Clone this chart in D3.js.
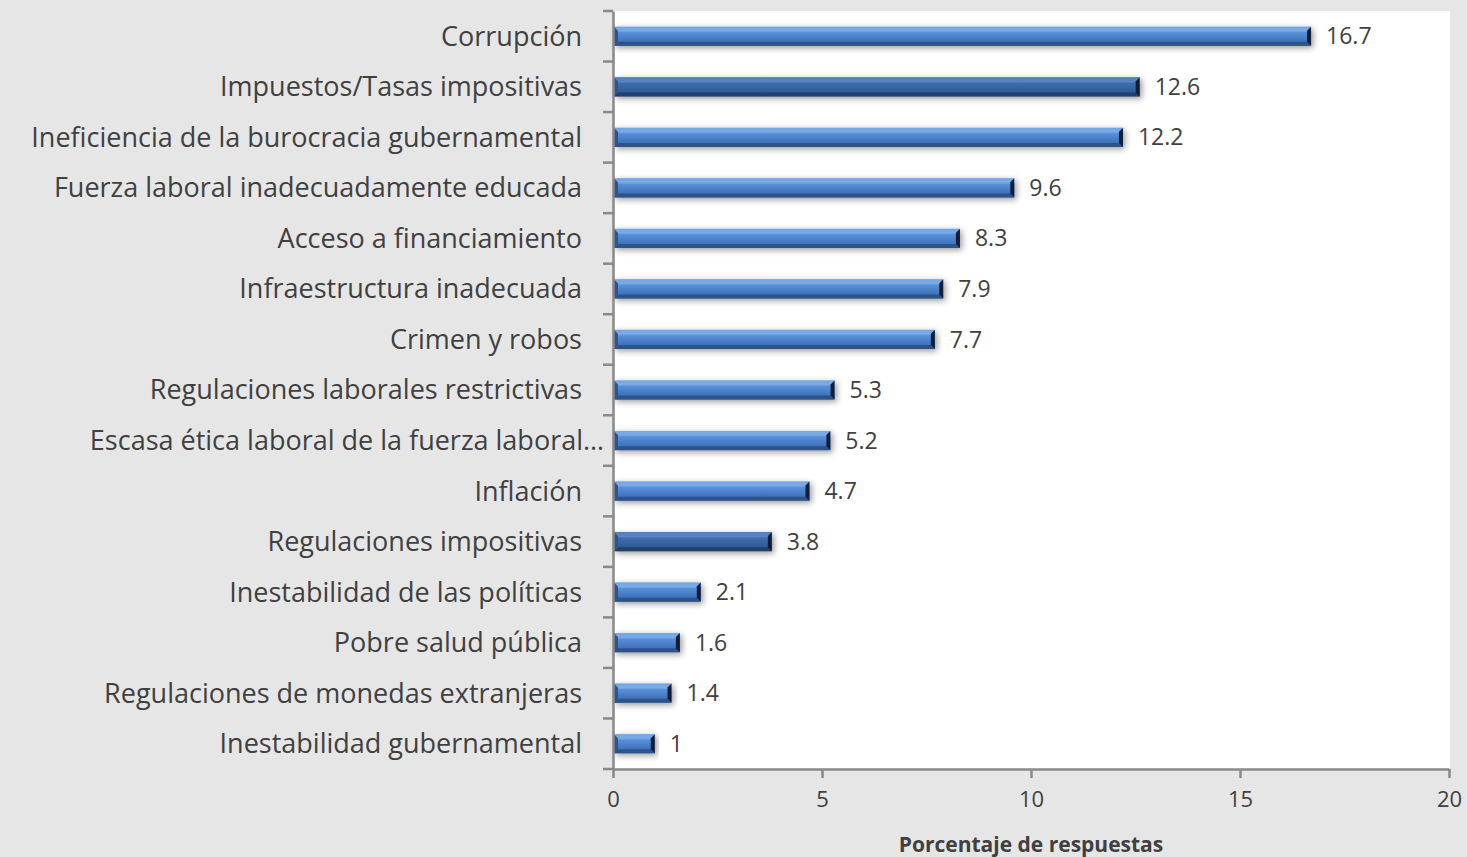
<!DOCTYPE html>
<html>
<head>
<meta charset="utf-8">
<script src="https://cdn.jsdelivr.net/npm/d3@7"></script>
<style>
  html, body { margin: 0; padding: 0; background: #e6e6e6; }
  text { font-family: "Open Sans", sans-serif; fill: #404040; }
</style>
</head>
<body>
<div id="container"></div>
<script>
// data
const categories = [
  "Corrupción",
  "Impuestos/Tasas impositivas",
  "Ineficiencia de la burocracia gubernamental",
  "Fuerza laboral inadecuadamente educada",
  "Acceso a financiamiento",
  "Infraestructura inadecuada",
  "Crimen y robos",
  "Regulaciones laborales restrictivas",
  "Escasa ética laboral de la fuerza laboral…",
  "Inflación",
  "Regulaciones impositivas",
  "Inestabilidad de las políticas",
  "Pobre salud pública",
  "Regulaciones de monedas extranjeras",
  "Inestabilidad gubernamental"
];
const values = [16.7, 12.6, 12.2, 9.6, 8.3, 7.9, 7.7, 5.3, 5.2, 4.7, 3.8, 2.1, 1.6, 1.4, 1];
const xTicks = [0, 5, 10, 15, 20];
const xTitle = "Porcentaje de respuestas";

// the two bars that come out a bit darker in the original
const darker = new Set(["Impuestos/Tasas impositivas", "Regulaciones impositivas"]);

const W = 1467, H = 857;
const plot = { left: 613, right: 1449, top: 11, bottom: 769 };

const svg = d3.select('#container')
  .append('svg')
  .attr('width', W)
  .attr('height', H);

const defs = svg.append('defs');
const shadow = defs.append('filter').attr('id', 'shadow')
  .attr('x', '-10%').attr('y', '-60%').attr('width', '120%').attr('height', '220%');
shadow.append('feDropShadow')
  .attr('dx', 2).attr('dy', 2).attr('stdDeviation', 3)
  .attr('flood-color', '#000').attr('flood-opacity', 0.4);

function grad(id, stops) {
  const g = defs.append('linearGradient').attr('id', id)
    .attr('x1', 0).attr('y1', 0).attr('x2', 0).attr('y2', 1);
  stops.forEach(s => g.append('stop').attr('offset', s[0]).attr('stop-color', s[1]));
}
grad('face', [[0, '#7fb0ee'], [0.15, '#9cc6f6'], [0.3, '#5a90d8'], [0.7, '#4177c0'], [1, '#3a68a8']]);
grad('faceDark', [[0, '#5f8fcf'], [0.15, '#7aa6dc'], [0.3, '#3f6fae'], [0.7, '#325e9a'], [1, '#2c5288']]);

// white plot area
svg.append('rect')
  .attr('x', plot.left).attr('y', plot.top)
  .attr('width', plot.right - plot.left + 1)
  .attr('height', plot.bottom - plot.top)
  .attr('fill', '#ffffff');

const xScale = d3.scaleLinear().domain([0, 20]).range([plot.left, plot.right]);
const yScale = d3.scaleBand().domain(categories).range([plot.top, plot.bottom]).paddingInner(0.62).paddingOuter(0.31);
const bandY = d3.scaleBand().domain(categories).range([plot.top, plot.bottom]);

// bars, beveled like the excel 3d look
const bars = svg.append('g').attr('class', 'bars');
categories.forEach((c, i) => {
  const x0 = xScale(0) + 1, x1 = xScale(values[i]);
  const y0 = yScale(c), h = yScale.bandwidth(), y1 = y0 + h;
  const b = 4;
  const g = bars.append('g').attr('filter', 'url(#shadow)');
  g.append('rect')
    .attr('x', x0).attr('y', y0).attr('width', x1 - x0).attr('height', h)
    .attr('fill', darker.has(c) ? 'url(#faceDark)' : 'url(#face)');
  // bottom bevel
  g.append('polygon')
    .attr('points', `${x0},${y1} ${x1},${y1} ${x1 - b},${y1 - b} ${x0 + b},${y1 - b}`)
    .attr('fill', darker.has(c) ? '#1f3a63' : '#2a4c7e').attr('opacity', 0.8);
  // top highlight
  g.append('polygon')
    .attr('points', `${x0},${y0} ${x1},${y0} ${x1 - b},${y0 + b} ${x0 + b},${y0 + b}`)
    .attr('fill', darker.has(c) ? '#4a78b4' : '#6a9fe0').attr('opacity', 0.7);
  // left cap
  g.append('polygon')
    .attr('points', `${x0},${y0} ${x0 + b},${y0 + b} ${x0 + b},${y1 - b} ${x0},${y1}`)
    .attr('fill', '#2c5593');
  // right cap, dark
  g.append('polygon')
    .attr('points', `${x1},${y0} ${x1},${y1} ${x1 - b},${y1 - b} ${x1 - b},${y0 + b}`)
    .attr('fill', '#141f33');
});

// value labels
svg.append('g').selectAll('text')
  .data(categories)
  .join('text')
  .attr('x', (c, i) => xScale(values[i]) + 15)
  .attr('y', c => yScale(c) + yScale.bandwidth() / 2)
  .attr('dy', '0.35em')
  .style('font-size', '23px')
  .text((c, i) => values[i]);

// y axis
const yAxis = svg.append('g')
  .attr('transform', `translate(${plot.left},0)`)
  .call(d3.axisLeft(yScale).tickSize(0).tickFormat(''));
yAxis.select('.domain').attr('stroke', '#898989').attr('stroke-width', 2.5);
const yTickPos = categories.map(c => bandY(c)).concat([plot.bottom]);
yAxis.selectAll('.btick').data(yTickPos).join('line')
  .attr('x1', -10).attr('x2', 0)
  .attr('y1', d => d).attr('y2', d => d)
  .attr('stroke', '#898989').attr('stroke-width', 2.5);

// category labels
svg.append('g').selectAll('text')
  .data(categories)
  .join('text')
  .attr('x', c => c.endsWith('…') ? 604 : 582)
  .attr('y', c => yScale(c) + yScale.bandwidth() / 2)
  .attr('dy', '0.35em')
  .attr('text-anchor', 'end')
  .style('font-size', '27px')
  .text(c => c);

// x axis
const xAxis = svg.append('g')
  .attr('transform', `translate(0,${plot.bottom})`)
  .call(d3.axisBottom(xScale).tickValues(xTicks).tickSize(9).tickPadding(13).tickSizeOuter(0));
xAxis.select('.domain').attr('stroke', '#898989').attr('stroke-width', 2.5);
xAxis.selectAll('.tick line').attr('stroke', '#898989').attr('stroke-width', 2.5);
xAxis.selectAll('.tick text')
  .style('font-family', '"Open Sans", sans-serif')
  .style('font-size', '22px')
  .attr('fill', '#404040');

svg.append('text')
  .attr('x', (plot.left + plot.right) / 2)
  .attr('y', 852)
  .attr('text-anchor', 'middle')
  .style('font-size', '21px')
  .style('font-weight', 'bold')
  .text(xTitle);
</script>
</body>
</html>
